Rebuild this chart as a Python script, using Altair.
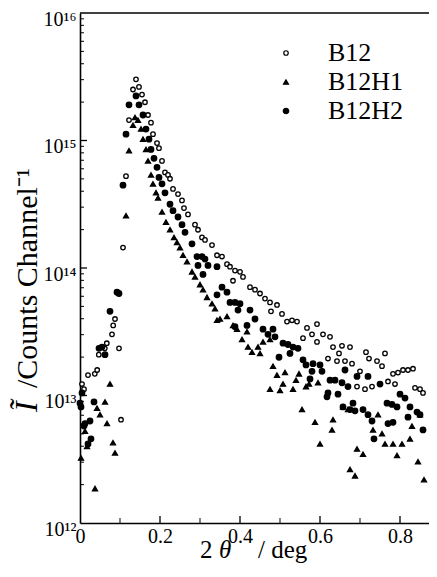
import altair as alt
import pandas as pd

# ---- data (2theta in deg, log10 of intensity) ----
b12_x = [0.005, 0.01, 0.02, 0.037, 0.043, 0.047, 0.062, 0.067, 0.08, 0.083, 0.0875, 0.0975, 0.1025,
         0.1075, 0.115, 0.1225, 0.1325, 0.14, 0.1475, 0.155, 0.1625, 0.17, 0.1775, 0.1825, 0.1925,
         0.1975, 0.205, 0.2125, 0.22, 0.225, 0.2325, 0.245, 0.255, 0.26, 0.27, 0.2875, 0.295, 0.305,
         0.3125, 0.33, 0.3425, 0.355, 0.3675, 0.375, 0.3825, 0.3875, 0.40, 0.4075, 0.425, 0.4375,
         0.45, 0.4625, 0.475, 0.4775, 0.4925, 0.505, 0.5175, 0.53, 0.5425, 0.5575, 0.5675, 0.58,
         0.5925, 0.5925, 0.6075, 0.62, 0.625, 0.6325, 0.6425, 0.6475, 0.655, 0.6625, 0.675, 0.68,
         0.6925, 0.70, 0.715, 0.7125, 0.7225, 0.73, 0.7425, 0.755, 0.7625, 0.77, 0.7825, 0.7875,
         0.795, 0.8075, 0.82, 0.8325, 0.8375, 0.85, 0.8575]
b12_logI = [13.09, 13.05, 13.16, 13.17, 13.20, 13.32, 13.37, 13.41, 13.48, 13.55, 13.60, 13.37, 12.81,
            14.16, 14.72, 15.16, 15.40, 15.48, 15.42, 15.36, 15.30, 15.20, 15.14, 15.05, 14.98,
            14.94, 14.84, 14.75, 14.73, 14.70, 14.62, 14.58, 14.53, 14.47, 14.42, 14.34, 14.30, 14.24,
            14.22, 14.18, 14.10, 14.09, 14.03, 14.01, 13.90, 13.98, 13.97, 13.93, 13.85, 13.83,
            13.80, 13.76, 13.73, 13.66, 13.71, 13.64, 13.58, 13.59, 13.58, 13.45, 13.53, 13.48,
            13.56, 13.42, 13.48, 13.29, 13.46, 13.38, 13.27, 13.33, 13.39, 13.27, 13.38, 13.25,
            13.07, 13.19, 13.34, 13.05, 13.29, 13.07, 13.27, 13.23, 13.33, 13.11, 13.17, 13.09,
            13.18, 13.20, 13.20, 13.21, 13.06, 13.05, 13.02]

h1_x = [0.0025, 0.0125, 0.0175, 0.0375, 0.0425, 0.05, 0.0625, 0.0675, 0.075, 0.0825, 0.0875,
        0.115, 0.1225, 0.1325, 0.1375, 0.145, 0.1525, 0.1575, 0.165, 0.17, 0.1775, 0.1825, 0.19,
        0.195, 0.205, 0.215, 0.225, 0.235, 0.2425, 0.25, 0.2575, 0.2675, 0.28, 0.2875, 0.30, 0.3075,
        0.3175, 0.33, 0.3375, 0.3425, 0.35, 0.3675, 0.3825, 0.3925, 0.405, 0.4175, 0.42, 0.43,
        0.445, 0.45, 0.4575, 0.475, 0.4825, 0.4925, 0.475, 0.50, 0.5075, 0.5125, 0.5325, 0.54,
        0.5475, 0.555, 0.565, 0.5725, 0.5875, 0.595, 0.60, 0.63, 0.6325, 0.6575, 0.67, 0.675,
        0.6875, 0.6925, 0.7075, 0.7325, 0.745, 0.755, 0.7625, 0.7825, 0.7925, 0.805, 0.825, 0.83,
        0.845, 0.85, 0.86]
h1_logI = [12.51, 12.72, 12.60, 12.27, 12.90, 12.85, 12.95, 12.78, 13.09, 12.63, 12.55,
           14.41, 14.92, 15.12, 15.18, 15.16, 15.09, 15.01, 14.93, 14.84, 14.73, 14.66, 14.59,
           14.55, 14.44, 14.36, 14.30, 14.24, 14.20, 14.16, 14.10, 14.05, 13.97, 13.93, 13.87, 13.83,
           13.77, 13.72, 13.68, 13.59, 13.60, 13.62, 13.55, 13.52, 13.44, 13.50, 13.38, 13.34,
           13.38, 13.33, 13.42, 13.44, 13.23, 13.16, 13.05, 13.04, 13.09, 13.18, 13.05, 13.12,
           13.17, 12.89, 13.07, 13.09, 12.79, 13.10, 12.62, 12.73, 12.81, 12.91, 12.89, 12.42,
           12.37, 12.58, 12.54, 12.73, 12.85, 12.70, 12.62, 12.62, 12.53, 12.62, 12.66, 12.76,
           12.48, 12.85, 12.34]

h2_x = [0.0, 0.0025, 0.005, 0.01, 0.0125, 0.02, 0.025, 0.0275, 0.035, 0.0475, 0.055, 0.0625, 0.075,
        0.0925, 0.0975, 0.1075, 0.115, 0.1225, 0.14, 0.1475, 0.1575, 0.165, 0.1725, 0.1775, 0.185,
        0.1925, 0.1975, 0.205, 0.2125, 0.225, 0.2325, 0.245, 0.255, 0.2625, 0.28, 0.2925, 0.295,
        0.305, 0.3075, 0.3125, 0.32, 0.3425, 0.3425, 0.355, 0.3675, 0.375, 0.3875, 0.3875, 0.395,
        0.40, 0.4175, 0.425, 0.4375, 0.4575, 0.47, 0.4825, 0.4875, 0.4975, 0.5075, 0.52, 0.525,
        0.5325, 0.545, 0.5575, 0.565, 0.575, 0.58, 0.5825, 0.60, 0.605, 0.6175, 0.62, 0.625, 0.6375,
        0.645, 0.655, 0.6575, 0.6625, 0.67, 0.675, 0.6825, 0.6875, 0.6925, 0.7075, 0.72, 0.72, 0.73,
        0.735, 0.75, 0.7675, 0.77, 0.78, 0.7825, 0.7925, 0.80, 0.8125, 0.82, 0.825, 0.8425, 0.85,
        0.8575]
h2_logI = [12.94, 12.91, 13.02, 12.76, 12.78, 12.62, 12.80, 12.66, 12.95, 13.37, 13.38, 13.32, 13.66,
           13.81, 13.80, 14.65, 15.05, 15.28, 15.35, 15.28, 15.20, 15.09, 15.01, 14.93, 14.86,
           14.79, 14.71, 14.66, 14.59, 14.50, 14.45, 14.40, 14.34, 14.28, 14.19, 14.09, 14.02,
           14.09, 13.95, 14.07, 14.02, 14.01, 13.79, 13.85, 13.81, 13.73, 13.73, 13.54, 13.67,
           13.72, 13.55, 13.67, 13.60, 13.52, 13.48, 13.52, 13.46, 13.30, 13.41, 13.40, 13.33,
           13.38, 13.37, 13.28, 13.24, 13.13, 13.19, 13.25, 13.24, 13.19, 12.99, 13.02, 13.12, 13.12,
           13.01, 13.10, 12.91, 13.20, 13.07, 12.89, 12.94, 12.88, 13.15, 12.89, 12.85, 13.15, 12.80,
           12.66, 13.09, 12.94, 12.78, 12.93, 12.79, 12.91, 13.01, 12.98, 12.83, 12.91, 12.87, 12.85,
           12.73]

series_names = ["B12", "B12H1", "B12H2"]
x_tick_labels = [0, 0.2, 0.4, 0.6, 0.8]
x_minor = [0.1, 0.3, 0.5, 0.7]
y_major = [1e12, 1e13, 1e14, 1e15, 1e16]
y_minor = [k * 10.0 ** e for e in (12, 13, 14, 15) for k in range(2, 10)]

rows = []
for name, xs, ls in [("B12", b12_x, b12_logI), ("B12H1", h1_x, h1_logI), ("B12H2", h2_x, h2_logI)]:
    for xv, lv in zip(xs, ls):
        rows.append({"series": name, "theta2": xv, "I": 10 ** lv})
df = pd.DataFrame(rows)

W, H = 349, 510
FONT = "Liberation Serif"

xscale = alt.Scale(domain=[0, W / 400.0], nice=False, zero=False)
yscale = alt.Scale(type="log", domain=[1e12, 1e16], nice=False)

label_expr = ("'10' + (round(log(datum.value)/LN10) == 12 ? '\u00b9\u00b2' : "
              "round(log(datum.value)/LN10) == 13 ? '\u00b9\u00b3' : "
              "round(log(datum.value)/LN10) == 14 ? '\u00b9\u2074' : "
              "round(log(datum.value)/LN10) == 15 ? '\u00b9\u2075' : '\u00b9\u2076')")

x_axis = alt.Axis(values=x_tick_labels, format="~g", ticks=False, grid=False,
                  domainColor="black", domainWidth=1.6, labelFont=FONT, labelFontSize=20,
                  labelColor="black", labelPadding=3, labelFlush=False, title=None)
y_axis = alt.Axis(values=y_major, labelExpr=label_expr, ticks=False, grid=False,
                  domainColor="black", domainWidth=1.6, labelFont=FONT, labelFontSize=20,
                  labelColor="black", labelPadding=4, labelFlush=False, labelOffset=6,
                  title=None)

sym_scale = alt.Scale(domain=series_names, range=["circle", "triangle-up", "circle"])
fill_scale = alt.Scale(domain=series_names, range=["white", "black", "black"])
stroke_scale = alt.Scale(domain=series_names, range=["black", "black", "black"])
size_scale = alt.Scale(domain=series_names, range=[20, 30, 22])

points = alt.Chart(df).mark_point(filled=False, opacity=1, strokeWidth=1.3).encode(
    x=alt.X("theta2:Q", scale=xscale, axis=x_axis),
    y=alt.Y("I:Q", scale=yscale, axis=y_axis),
    shape=alt.Shape("series:N", scale=sym_scale, legend=alt.Legend(title=None)),
    fill=alt.Fill("series:N", scale=fill_scale, legend=alt.Legend(title=None)),
    stroke=alt.Stroke("series:N", scale=stroke_scale, legend=alt.Legend(title=None)),
    size=alt.Size("series:N", scale=size_scale, legend=alt.Legend(title=None)),
)

ymaj_df = pd.DataFrame({"I": y_major[1:-1]})
ymin_df = pd.DataFrame({"I": y_minor})
xmaj_df = pd.DataFrame({"theta2": x_tick_labels[1:]})
xmin_df = pd.DataFrame({"theta2": x_minor})
one = pd.DataFrame({"k": [0]})

ytick_major = alt.Chart(ymaj_df).mark_rule(color="black", strokeWidth=1.3).encode(
    y=alt.Y("I:Q", scale=yscale), x=alt.value(0), x2=alt.value(7))
ytick_minor = alt.Chart(ymin_df).mark_rule(color="black", strokeWidth=1).encode(
    y=alt.Y("I:Q", scale=yscale), x=alt.value(0), x2=alt.value(4))
xtick_major = alt.Chart(xmaj_df).mark_rule(color="black", strokeWidth=1.3).encode(
    x=alt.X("theta2:Q", scale=xscale), y=alt.value(H), y2=alt.value(H - 7))
xtick_minor = alt.Chart(xmin_df).mark_rule(color="black", strokeWidth=1).encode(
    x=alt.X("theta2:Q", scale=xscale), y=alt.value(H), y2=alt.value(H - 5))
top_line = alt.Chart(one).mark_rule(color="black", strokeWidth=1.6).encode(
    x=alt.value(0), x2=alt.value(W), y=alt.value(0))

# axis titles (mixed italic / upright text)
def txt(s, x, y, size, italic=False, angle=0):
    props = dict(text=s, font=FONT, fontSize=size, color="black", align="left",
                 baseline="alphabetic")
    if italic:
        props["fontStyle"] = "italic"
    if angle:
        props["angle"] = angle
    return alt.Chart(one).mark_text(**props).encode(x=alt.value(x), y=alt.value(y))

xt1 = txt("2", 120, 545, 25)
xt2 = txt("\u03b8", 139, 545, 25, italic=True)
xt3 = txt("/ deg", 178, 545, 25)
yt1 = txt("\u0128", -43, 399, 32, italic=True, angle=270)
yt2 = txt("/Counts Channel\u207b\u00b9", -43, 375, 30, angle=270)

chart = alt.layer(points, ytick_major, ytick_minor, xtick_major, xtick_minor, top_line,
                  xt1, xt2, xt3, yt1, yt2).properties(
    width=W, height=H,
    autosize=alt.AutoSizeParams(type="none"),
    padding={"left": 72, "top": 5, "right": 0, "bottom": 42},
).configure_view(stroke=None).configure_legend(
    orient="none", legendX=193, legendY=27, padding=0, labelFont=FONT, labelFontSize=26,
    labelColor="black", labelOffset=29, symbolStrokeWidth=1.2,
    rowPadding=3, labelLimit=200,
)

chart.save("out.html", embed_options={"renderer": "svg", "actions": False})
